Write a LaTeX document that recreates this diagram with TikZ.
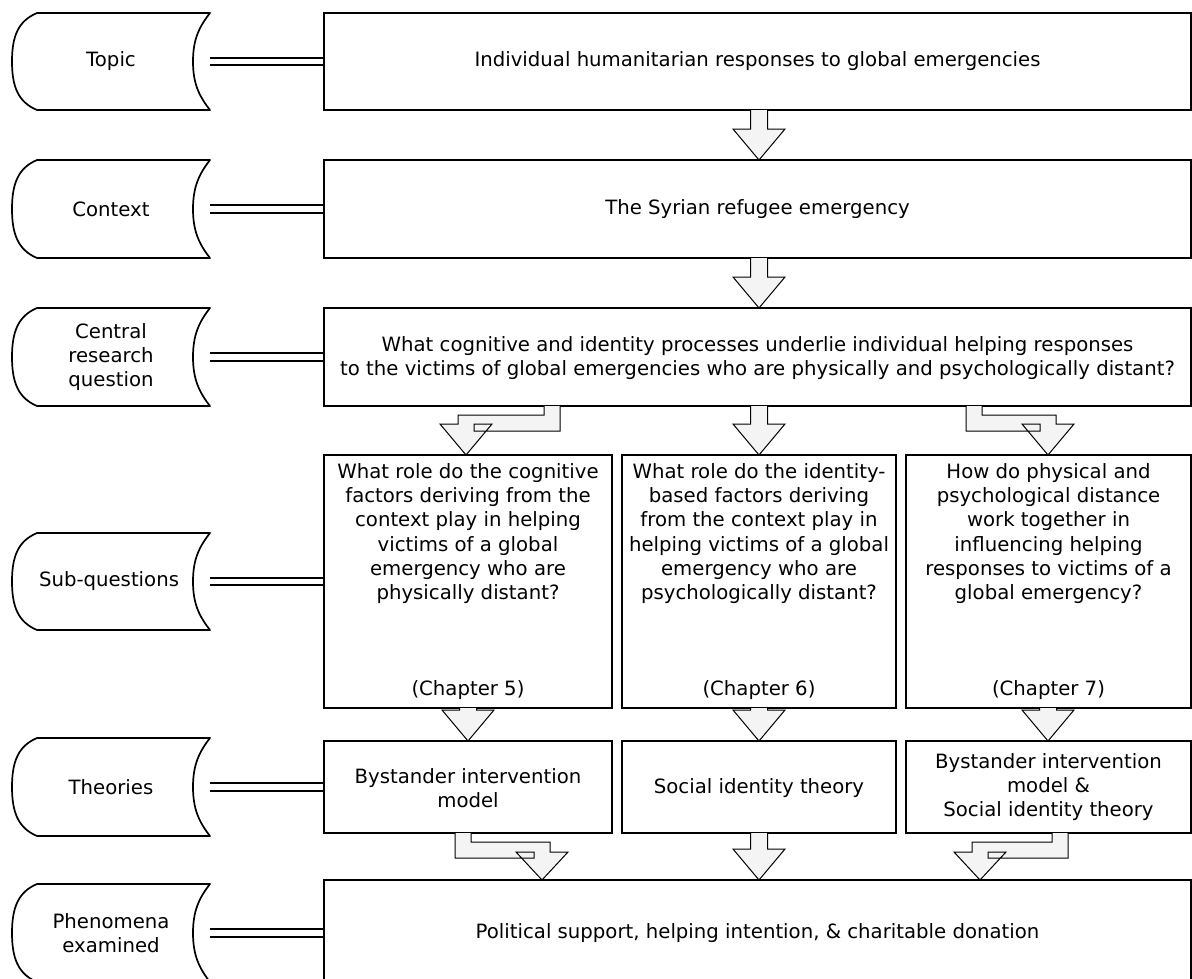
\documentclass[tikz,border=0pt]{standalone}
\usepackage{fontspec}
\setmainfont{DejaVu Sans}
\definecolor{arrfill}{HTML}{F4F4F4}
\newcommand\fs{\fontsize{19.7}{24.3}\selectfont}
\tikzset{
  box/.style={draw, line width=1.7pt, fill=white, inner sep=0pt},
  lbl/.style={font=\fs, align=center, inner sep=0pt},
  arr/.style={draw, line width=1pt, fill=arrfill, line join=miter},
  dbl/.style={double, double distance=5.5pt, line width=2.2pt},
  shp/.style={draw, line width=1.7pt, line join=round},
}
% straight block arrow: cx, ytop, ytip
\newcommand\sarrow[3]{%
  \filldraw[arr] ({#1-8.5},#2) -- ({#1-8.5},{#3-31}) -- ({#1-26},{#3-31}) -- (#1,#3)
    -- ({#1+26},{#3-31}) -- ({#1+8.5},{#3-31}) -- ({#1+8.5},#2);}
% bent block arrow: vx, hx, ybox, shafttop, shaftbottom, headtop, tip
\newcommand\barrow[7]{%
  \pgfmathsetmacro\sg{(#2>#1)?1:-1}%
  \filldraw[arr] ({#1-8*\sg},#3) -- ({#1-8*\sg},#5) -- ({#2-8*\sg},#5) -- ({#2-8*\sg},#6)
    -- ({#2-26*\sg},#6) -- (#2,#7) -- ({#2+26*\sg},#6) -- ({#2+8*\sg},#6)
    -- ({#2+8*\sg},#4) -- ({#1+8*\sg},#4) -- ({#1+8*\sg},#3);}
% left label shape: ytop, ybottom, name
\newcommand\lshape[3]{%
  \pgfmathsetmacro\ym{(#1+#2)/2}%
  \draw[shp] (37,#1) -- (210,#1) .. controls (199,{#1+14}) and (193,{\ym-22}) .. (193,\ym)
    .. controls (193,{\ym+22}) and (199,{#2-14}) .. (210,#2) -- (37,#2)
    .. controls (18,{#2-8}) and (12,{\ym+25}) .. (12,\ym)
    .. controls (12,{\ym-25}) and (18,{#1+8}) .. (37,#1) -- cycle;
  \coordinate (#3) at (210,\ym);}
\begin{document}
\begin{tikzpicture}[x=1pt,y=-1pt]
\useasboundingbox (0,0) rectangle (1192,978);

% main boxes
\node[box, minimum width=867pt, minimum height=97pt] (b1) at (757.5,61.5) {};
\node[box, minimum width=867pt, minimum height=98pt] (b2) at (757.5,209) {};
\node[box, minimum width=867pt, minimum height=98pt] (b3) at (757.5,357) {};
\node[box, minimum width=288pt, minimum height=253pt] (s1) at (468,581.5) {};
\node[box, minimum width=274pt, minimum height=253pt] (s2) at (759,581.5) {};
\node[box, minimum width=285pt, minimum height=253pt] (s3) at (1048.5,581.5) {};
\node[box, minimum width=288pt, minimum height=92pt] (t1) at (468,787) {};
\node[box, minimum width=274pt, minimum height=92pt] (t2) at (759,787) {};
\node[box, minimum width=285pt, minimum height=92pt] (t3) at (1048.5,787) {};
\node[box, minimum width=867pt, minimum height=110pt] (b6) at (757.5,935) {};

% texts
\node[lbl] (x1) at (757.5,61.5) {Individual humanitarian responses to global emergencies};
\node[lbl] (x2) at (757.5,209) {The Syrian refugee emergency};
\node[lbl] (x3) at (757.5,358) {What cognitive and identity processes underlie individual helping responses\\to the victims of global emergencies who are physically and psychologically distant?};
\node[lbl] (q1) at (468,533.5) {What role do the cognitive\\factors deriving from the\\context play in helping\\victims of a global\\emergency who are\\physically distant?};
\node[lbl] (q2) at (759,533.5) {What role do the identity-\\based factors deriving\\from the context play in\\helping victims of a global\\emergency who are\\psychologically distant?};
\node[lbl] (q3) at (1048.5,533.5) {How do physical and\\psychological distance\\work together in\\influencing helping\\responses to victims of a\\global emergency?};
\node[lbl] (c1) at (468,690) {(Chapter 5)};
\node[lbl] (c2) at (759,690) {(Chapter 6)};
\node[lbl] (c3) at (1048.5,690) {(Chapter 7)};
\node[lbl] (y1) at (468,788) {Bystander intervention\\model};
\node[lbl] (y2) at (759,788) {Social identity theory};
\node[lbl] (y3) at (1048.5,787) {Bystander intervention\\model \&\\Social identity theory};
\node[lbl] (x6) at (757.5,933) {Political support, helping intention, \& charitable donation};

% left shapes
\lshape{13}{110}{L1}
\lshape{160}{258}{L2}
\lshape{308}{406}{L3}
\lshape{533}{630}{L4}
\lshape{738}{836}{L5}
\lshape{884}{982}{L6}
\node[lbl] (n1) at (111,61.5) {Topic};
\node[lbl] (n2) at (111,209) {Context};
\node[lbl] (n3) at (111,357) {Central\\research\\question};
\node[lbl] (n4) at (109,581.5) {Sub-questions};
\node[lbl] (n5) at (111,787) {Theories};
\node[lbl] (n6) at (111,933) {Phenomena\\examined};

% double connectors
\draw[dbl] (L1) -- (b1.west |- L1);
\draw[dbl] (L2) -- (b2.west |- L2);
\draw[dbl] (L3) -- (b3.west |- L3);
\draw[dbl] (L4) -- (s1.west |- L4);
\draw[dbl] (L5) -- (t1.west |- L5);
\draw[dbl] (L6) -- (b6.west |- L6);

% block arrows
\sarrow{759}{110}{160}
\sarrow{759}{258}{308}
\sarrow{759}{406}{455}
\barrow{552}{466}{406}{415}{431}{424}{455}
\barrow{974}{1048}{406}{415}{431}{424}{455}
\sarrow{468}{708}{741}
\sarrow{759}{708}{741}
\sarrow{1048}{708}{741}
\barrow{463}{542}{833}{842}{858}{852}{880}
\barrow{1060}{980}{833}{842}{858}{852}{880}
\sarrow{759}{833}{880}
\end{tikzpicture}
\end{document}
